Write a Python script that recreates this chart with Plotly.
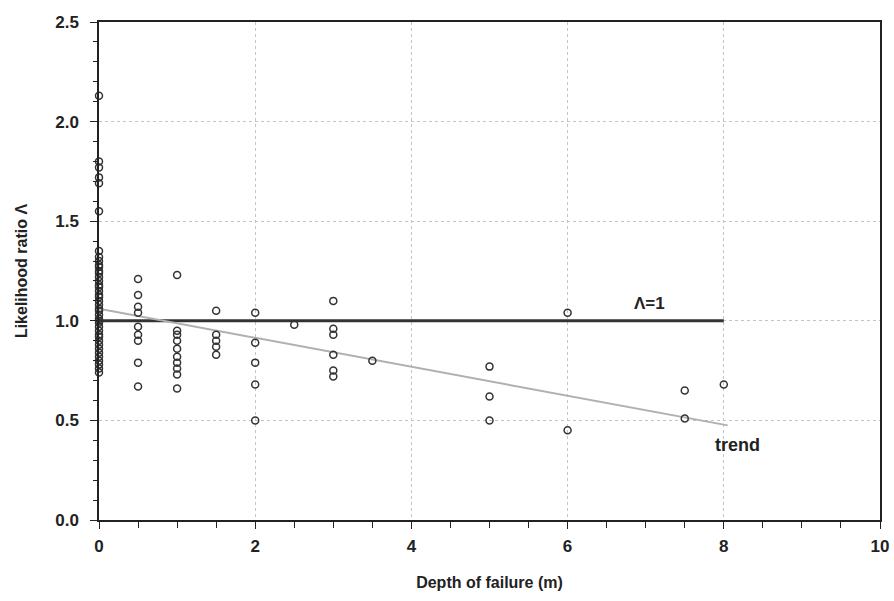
import plotly.graph_objects as go

# Observed points (depth of failure in m, likelihood ratio)
depth_0 = [0.0] * 41
lr_0 = [2.13, 1.80, 1.77, 1.72, 1.69, 1.55, 1.35, 1.32, 1.30, 1.28, 1.27, 1.25, 1.24,
        1.22, 1.20, 1.18, 1.17, 1.15, 1.13, 1.12, 1.10, 1.08, 1.06, 1.05, 1.03, 1.01,
        1.00, 0.99, 0.97, 0.95, 0.93, 0.92, 0.90, 0.88, 0.86, 0.84, 0.82, 0.80, 0.78,
        0.76, 0.74]
depth_other = ([0.5] * 9 + [1.0] * 10 + [1.5] * 5 + [2.0] * 5 + [2.5] + [3.0] * 6
               + [3.5] + [5.0] * 3 + [6.0] * 2 + [7.5] * 2 + [8.0])
lr_other = ([1.21, 1.13, 1.07, 1.04, 0.97, 0.93, 0.90, 0.79, 0.67]
            + [1.23, 0.95, 0.93, 0.90, 0.86, 0.82, 0.79, 0.76, 0.73, 0.66]
            + [1.05, 0.93, 0.90, 0.87, 0.83]
            + [1.04, 0.89, 0.79, 0.68, 0.50]
            + [0.98]
            + [1.10, 0.96, 0.93, 0.83, 0.75, 0.72]
            + [0.80]
            + [0.77, 0.62, 0.50]
            + [1.04, 0.45]
            + [0.65, 0.51]
            + [0.68])

ref_x = [0, 8]
ref_y = [1.0, 1.0]
trend_x = [0, 8.05]
trend_y = [1.06, 0.475]

x_ticks = [0, 2, 4, 6, 8, 10]
y_ticks = [0.0, 0.5, 1.0, 1.5, 2.0, 2.5]

FONT = "Liberation Sans"
INK = "#222222"

fig = go.Figure()
fig.add_trace(go.Scatter(x=ref_x, y=ref_y, mode="lines",
                         line=dict(color="#333333", width=3), showlegend=False))
fig.add_trace(go.Scatter(x=trend_x, y=trend_y, mode="lines",
                         line=dict(color="#b0b0b0", width=2), showlegend=False))
fig.add_trace(go.Scatter(x=depth_0 + depth_other, y=lr_0 + lr_other, mode="markers",
                         marker=dict(symbol="circle-open", size=7, color="#333333",
                                     line=dict(width=1.5, color="#333333")),
                         cliponaxis=False, showlegend=False))

fig.add_annotation(x=7.05, y=1.085, text="<b>Λ=1</b>", showarrow=False,
                   font=dict(size=17, color=INK, family=FONT))
fig.add_annotation(x=8.18, y=0.375, text="<b>trend</b>", showarrow=False,
                   font=dict(size=18, color=INK, family=FONT))

axis_common = dict(
    showline=True, linecolor=INK, linewidth=1.5, mirror=True,
    showgrid=True, gridcolor="#c4c4c4", griddash="dot", gridwidth=1,
    zeroline=False, ticks="outside", ticklen=7, tickcolor=INK, tickwidth=1,
    tickfont=dict(size=17, family=FONT, color=INK, weight="bold"),
)

fig.update_xaxes(range=[0, 10], tickvals=x_ticks, ticktext=[str(v) for v in x_ticks],
                 ticklabelstandoff=3,
                 minor=dict(dtick=0.5, ticks="outside", ticklen=6, tickcolor=INK, showgrid=False),
                 title=dict(text="Depth of failure (m)", standoff=22,
                            font=dict(size=16, family=FONT, color=INK, weight="bold")),
                 **axis_common)
fig.update_yaxes(range=[0, 2.5], tickvals=y_ticks, ticktext=[f"{v:.1f}" for v in y_ticks],
                 ticklabelstandoff=8,
                 minor=dict(dtick=0.1, ticks="outside", ticklen=4, tickcolor=INK, showgrid=False),
                 title=dict(text="Likelihood ratio Λ", standoff=24,
                            font=dict(size=16, family=FONT, color=INK, weight="bold")),
                 **axis_common)

fig.update_layout(
    width=894, height=601,
    margin=dict(l=99, r=14, t=22, b=81, autoexpand=False),
    plot_bgcolor="white", paper_bgcolor="white",
)

fig.write_html("out.html")
